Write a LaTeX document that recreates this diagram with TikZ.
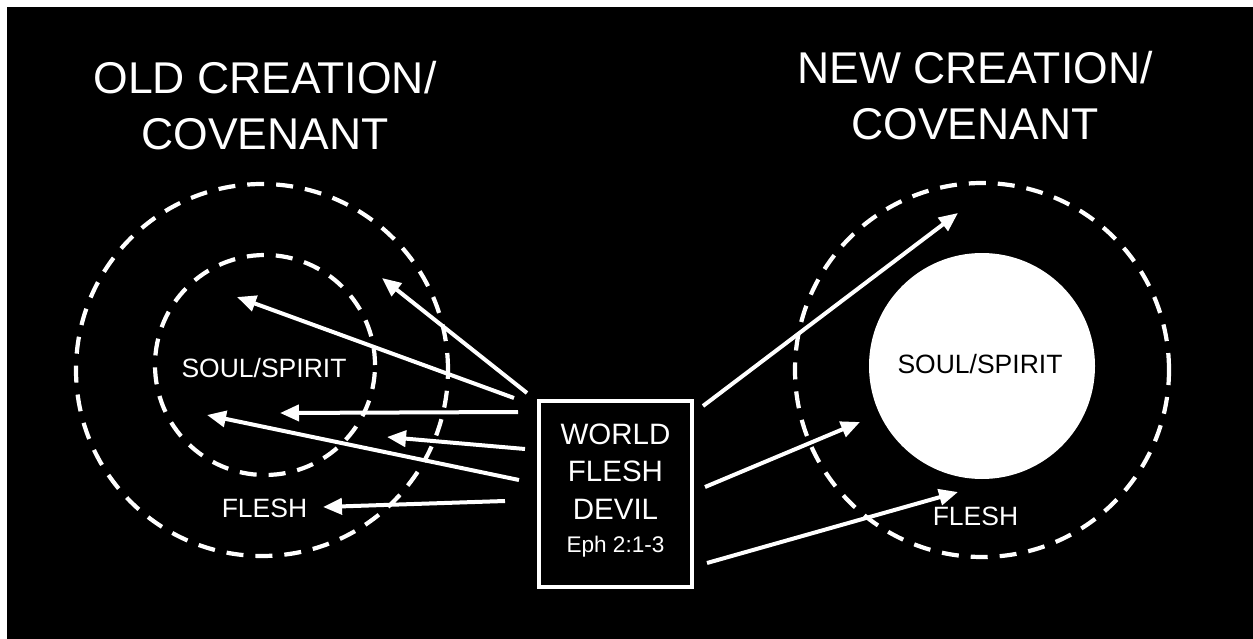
\documentclass[tikz,border=0pt]{standalone}
\usepackage{fontspec}
\setmainfont{Liberation Sans}
\usetikzlibrary{arrows.meta}
\tikzset{
  dashring/.style={circle, draw=white, line width=4.2pt, dash pattern=on 17pt off 12pt, inner sep=0pt},
  arr/.style={draw=white, line width=4pt, -{Triangle[length=19pt,width=16pt]}},
  titletext/.style={text=white, align=center, inner sep=0pt, font=\fontsize{44.5}{56}\selectfont},
  smalltext/.style={text=white, inner sep=0pt, anchor=base, font=\fontsize{26.5}{32}\selectfont},
}
\begin{document}
\begin{tikzpicture}[x=1pt,y=-1pt]
\useasboundingbox (0,0) rectangle (1253,639);
\fill[white] (0,0) rectangle (1253,639);
\fill[black] (7,7) rectangle (1253,639);
% titles
\node[titletext] (oldtitle) at (265,106) {OLD CREATION/\\COVENANT};
\node[titletext] (newtitle) at (975,95.5) {NEW CREATION/\\COVENANT};
% left circles
\node[dashring, minimum size=372pt] (oldouter) at (262,370) {};
\node[dashring, minimum size=220pt] (oldinner) at (265,365) {};
\node[smalltext] (oldsoul) at (264,377) {SOUL/SPIRIT};
\node[smalltext] (oldflesh) at (264.5,517) {FLESH};
% right circles
\node[dashring, minimum size=374pt] (newouter) at (982,370) {};
\node[circle, fill=white, inner sep=0pt, minimum size=226pt] (newsoulc) at (982,366) {};
\node[smalltext, text=black] (newsoul) at (980,373) {SOUL/SPIRIT};
\node[smalltext] (newflesh) at (975.5,525) {FLESH};
% box
\node[draw=white, line width=4.5pt, minimum width=153pt, minimum height=186pt, inner sep=0pt] (box) at (615.5,494) {};
\node[text=white, align=center, inner sep=0pt, font=\fontsize{29.5}{37.5}\selectfont] (boxtext) at (615.5,490.5)
  {WORLD\\FLESH\\DEVIL\\[-4pt]{\fontsize{22.6}{28}\selectfont Eph 2:1-3}};
% arrow coordinates
\coordinate (lt1) at (527,393); \coordinate (lh1) at (382,278);
\coordinate (lt2) at (514,398); \coordinate (lh2) at (237,297);
\coordinate (lt3) at (518,412); \coordinate (lh3) at (280,413);
\coordinate (lt4) at (525,449); \coordinate (lh4) at (387,437);
\coordinate (lt5) at (519,480); \coordinate (lh5) at (207,415);
\coordinate (lt6) at (505,501); \coordinate (lh6) at (323,507);
\coordinate (rt1) at (703,406); \coordinate (rh1) at (958,213);
\coordinate (rt2) at (705,487); \coordinate (rh2) at (860,422);
\coordinate (rt3) at (707,563); \coordinate (rh3) at (958,492);
\foreach \i in {1,...,6} {\draw[arr] (lt\i) -- (lh\i);}
\foreach \i in {1,2,3} {\draw[arr] (rt\i) -- (rh\i);}
\end{tikzpicture}
\end{document}
